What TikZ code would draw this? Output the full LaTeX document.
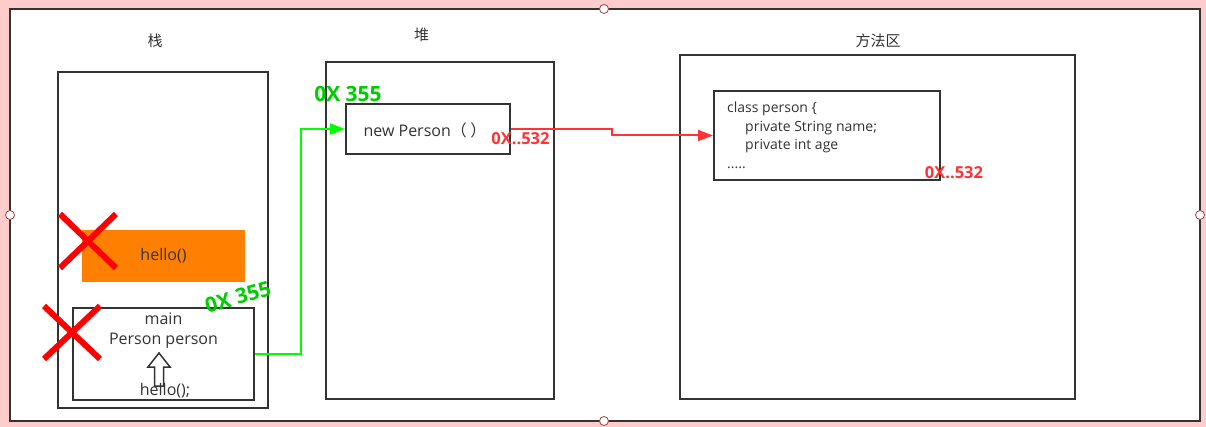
\documentclass[tikz,border=0pt]{standalone}
\usepackage{fontspec}
\setmainfont{Open Sans}
\newfontfamily\cjk{Noto Sans CJK SC}
\usetikzlibrary{arrows.meta}
\definecolor{bgpink}{HTML}{FFCCCC}
\definecolor{frame}{HTML}{333333}
\definecolor{txt}{HTML}{333333}
\definecolor{orng}{HTML}{FF8000}
\definecolor{gline}{HTML}{00FF00}
\definecolor{gtext}{HTML}{00CC00}
\definecolor{rline}{HTML}{FF3333}
\definecolor{xred}{HTML}{FF0000}
\definecolor{handle}{HTML}{A04040}
\tikzset{
  box/.style={draw=frame, line width=2pt, fill=white, inner sep=0pt},
  lbl/.style={text=txt, font=\cjk\fontsize{15}{17}\selectfont, inner sep=0pt},
  body/.style={text=txt, font=\fontsize{16}{19}\selectfont, inner sep=0pt},
  addrg/.style={text=gtext, font=\bfseries\fontsize{21}{23}\selectfont, inner sep=0pt},
  addrr/.style={text=rline, font=\bfseries\fontsize{16.5}{18}\selectfont, inner sep=0pt},
  hdl/.style={circle, draw=handle, fill=white, line width=0.8pt, minimum size=9pt, inner sep=0pt},
  xmark/.style={draw=xred, line width=6pt},
  gconn/.style={draw=gline, line width=2pt, -{Triangle[length=15pt,width=11pt]}},
  rconn/.style={draw=rline, line width=2pt, -{Triangle[length=15pt,width=11pt]}}
}
\begin{document}
\begin{tikzpicture}[x=1pt,y=-1pt]
\useasboundingbox (0,0) rectangle (1206,427);
\fill[bgpink] (0,0) rectangle (1206,427);
% outer frame
\node[box, minimum width=1190pt, minimum height=412pt] (outer) at (605,215) {};
% stack
\node[lbl] (stacklbl) at (155,41) {栈};
\node[box, minimum width=210pt, minimum height=336pt] (stack) at (163,240) {};
\node[fill=orng, minimum width=163pt, minimum height=52pt, inner sep=0pt] (hello) at (163.5,256) {};
\node[body] (hellotxt) at (163.5,256) {hello()};
\node[box, minimum width=181pt, minimum height=92pt] (main) at (163.5,354) {};
\node[body, anchor=base] (maintxt) at (163.5,324) {main};
\node[body, anchor=base] (pptxt) at (163.5,344) {Person person};
\draw[draw=frame, fill=white, line width=1.5pt] (159,353) -- (170,367) -- (163.5,367) -- (163.5,386) -- (154.5,386) -- (154.5,367) -- (148,367) -- cycle;
\node[body, anchor=base] (hcall) at (165,395) {hello();};
\draw[xmark] (60,214) -- (116,268) (60,268) -- (116,214);
\draw[xmark] (44,306) -- (100,359) (44,359) -- (100,306);
\node[addrg, rotate=16] (g1) at (238,297) {0X 355};
% heap
\node[lbl] (heaplbl) at (421.5,35) {堆};
\node[box, minimum width=228pt, minimum height=337pt] (heap) at (440,230.5) {};
\node[addrg] (g2) at (348,94) {0X 355};
\node[box, minimum width=164pt, minimum height=50pt] (newp) at (428,129) {};
\node[body] (newptxt) at (425,130) {new Person{\cjk（ ）}};
\node[addrr] (r1) at (520.5,139) {0X..532};
% method area
\node[lbl] (malbl) at (878,41) {方法区};
\node[box, minimum width=395pt, minimum height=344pt] (ma) at (877.5,227) {};
\node[box, minimum width=226pt, minimum height=89pt] (cls) at (827,135.5) {};
\node[body, font=\fontsize{14}{18.4}\selectfont, align=left, anchor=north west] (clstxt) at (727,102) {class person \{\\\hspace*{18pt}private String name;\\\hspace*{18pt}private int age\\.....};
\node[addrr] (r2) at (954,173) {0X..532};
% connectors
\draw[gconn] (main.east) -- ++(46,0) |- (newp.west);
\coordinate (rbend) at (612,135.5);
\draw[rconn] (newp.east) -| (rbend) -- (cls.west);
% handles
\node[hdl] (h1) at (10,215) {};
\node[hdl] (h2) at (1200,215) {};
\node[hdl] (h3) at (604,9) {};
\node[hdl] (h4) at (604,421) {};
\end{tikzpicture}
\end{document}
